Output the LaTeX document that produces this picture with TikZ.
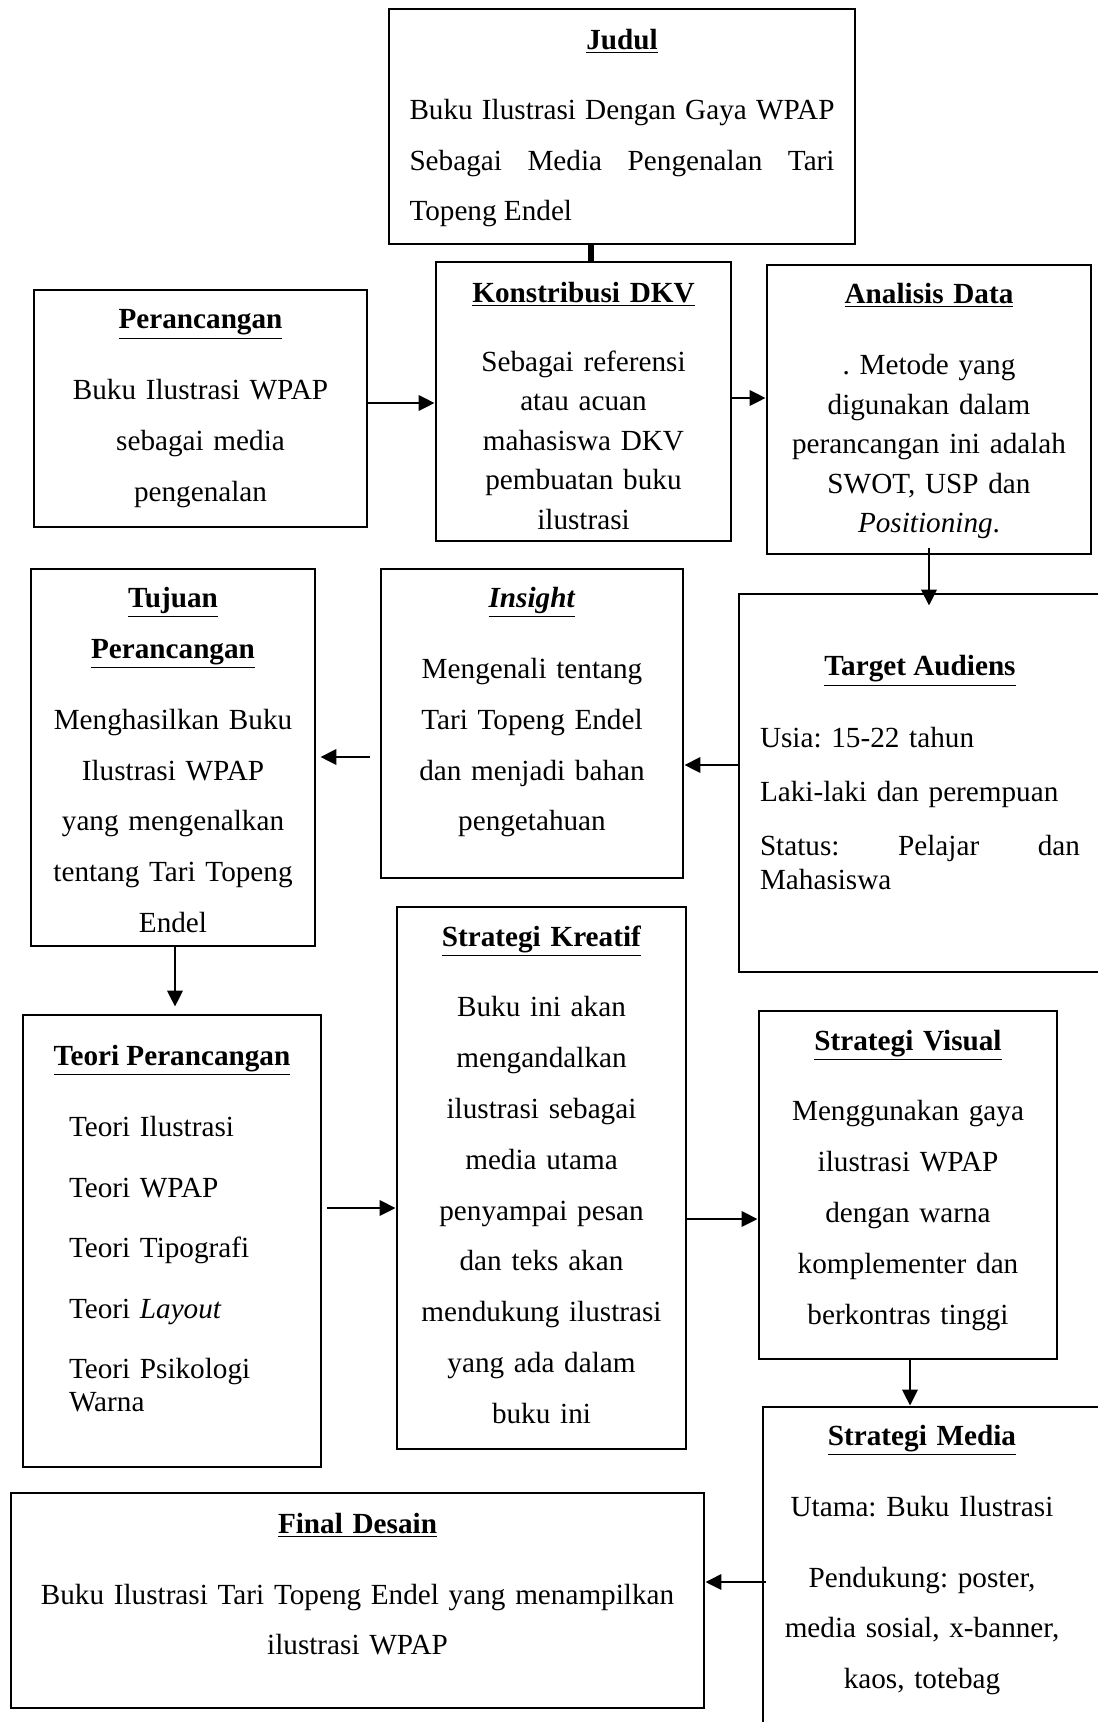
\documentclass[tikz,border=0pt]{standalone}
\usepackage{fontspec}
\setmainfont{Liberation Serif}
\usetikzlibrary{arrows.meta,positioning,calc}
\frenchspacing

\begin{document}
\begin{tikzpicture}[x=0.5pt,y=-0.5pt,
    boxnode/.style={draw,line width=1.4pt,inner sep=0pt},
    txtnode/.style={inner sep=0pt,align=center,anchor=north,
      font=\fontsize{14.6pt}{25.4pt}\selectfont},
    tightnode/.style={txtnode,font=\fontsize{14.6pt}{19.75pt}\selectfont},
    arrowedge/.style={line width=1.4pt,-{Triangle[length=8pt,width=7.6pt]}},
    joinedge/.style={line width=3pt}
    ]
    \useasboundingbox (0,0) rectangle (1097,1722);

    % the boxes
    \node (jud) [boxnode,minimum width=233pt,minimum height=117.5pt] at (622,126.5) {};
    \node (kon) [boxnode,minimum width=147.5pt,minimum height=139.5pt] at (583.5,401.5) {};
    \node (per) [boxnode,minimum width=166.5pt,minimum height=118.5pt] at (200.5,408.5) {};
    \node (ana) [boxnode,minimum width=162pt,minimum height=144.5pt] at (929,409.5) {};
    \node (tuj) [boxnode,minimum width=142pt,minimum height=188.5pt] at (173,757.5) {};
    \node (ins) [boxnode,minimum width=151pt,minimum height=154.5pt] at (532,723.5) {};
    \node (tgt) [boxnode,minimum width=181pt,minimum height=189pt] at (920,783) {};
    \node (teo) [boxnode,minimum width=149pt,minimum height=226pt] at (172,1241) {};
    \node (kre) [boxnode,minimum width=144.5pt,minimum height=271pt] at (541.5,1178) {};
    \node (vis) [boxnode,minimum width=149pt,minimum height=174pt] at (908,1185) {};
    \node (med) [boxnode,minimum width=171pt,minimum height=166.5pt] at (934,1573.5) {};
    \node (fin) [boxnode,minimum width=346.5pt,minimum height=107.5pt] at (357.5,1600.5) {};

    % the texts
    \node (jud-t) [txtnode] at ([yshift=-10.5pt]jud.north) {\underline{\textbf{Judul}}};
    \node (jud-b) [txtnode,text width=212.5pt,align=justify] at ([yshift=-45.5pt]jud.north)
      {Buku Ilustrasi Dengan Gaya WPAP\linebreak Sebagai Media Pengenalan Tari\linebreak Topeng Endel};
    \node (kon-t) [tightnode,text width=140pt] at ([yshift=-10.5pt]kon.north)
      {\underline{\textbf{Konstribusi DKV}}\\[14.85pt]Sebagai referensi\\atau acuan\\mahasiswa DKV\\pembuatan buku\\ilustrasi};
    \node (per-t) [txtnode,text width=160pt] at ([yshift=-10.3pt]per.north)
      {\underline{\textbf{Perancangan}}\\[10pt]Buku Ilustrasi WPAP\\sebagai media\\pengenalan};
    \node (ana-t) [tightnode,text width=155pt] at ([yshift=-9.7pt]ana.north)
      {\underline{\textbf{Analisis Data}}\\[15.9pt]. Metode yang\\digunakan dalam\\perancangan ini adalah\\SWOT, USP dan\\\textit{Positioning}.};
    \node (tuj-t) [txtnode,text width=140pt] at ([yshift=-9.7pt]tuj.north)
      {\underline{\textbf{Tujuan}}\\\underline{\textbf{Perancangan}}\\[10pt]Menghasilkan Buku\\Ilustrasi WPAP\\yang mengenalkan\\tentang Tari Topeng\\Endel};
    \node (ins-t) [txtnode,text width=148pt] at ([yshift=-9.7pt]ins.north)
      {\underline{\textbf{\textit{Insight}}}\\[10pt]Mengenali tentang\\Tari Topeng Endel\\dan menjadi bahan\\pengetahuan};
    \node (tgt-t) [txtnode] at ([yshift=-31.25pt]tgt.north) {\underline{\textbf{Target Audiens}}};
    \node (tgt-b) [txtnode,anchor=north west,text width=160pt,align=left] at ($(tgt.north west)+(11pt,-66.9pt)$)
      {Usia: 15-22 tahun\\[1.75pt]Laki-laki dan perempuan\\[1.75pt]Status:\hfill Pelajar\hfill dan\\[-8.25pt]Mahasiswa};
    \node (teo-t) [txtnode] at ([yshift=-15.5pt]teo.north) {\underline{\textbf{Teori Perancangan}}};
    \node (teo-b) [txtnode,anchor=north west,text width=115pt,align=left,
      font=\fontsize{14.6pt}{30.2pt}\selectfont] at ($(teo.north west)+(23.5pt,-51.3pt)$)
      {Teori Ilustrasi\\Teori WPAP\\Teori Tipografi\\Teori \textit{Layout}\\Teori Psikologi\\[-13.7pt]Warna};
    \node (kre-t) [txtnode,text width=140pt] at ([yshift=-9.8pt]kre.north)
      {\underline{\textbf{Strategi Kreatif}}\\[10pt]Buku ini akan\\mengandalkan\\ilustrasi sebagai\\media utama\\penyampai pesan\\dan teks akan\\mendukung ilustrasi\\yang ada dalam\\buku ini};
    \node (vis-t) [txtnode,text width=145pt] at ([yshift=-9.95pt]vis.north)
      {\underline{\textbf{Strategi Visual}}\\[10pt]Menggunakan gaya\\ilustrasi WPAP\\dengan warna\\komplementer dan\\berkontras tinggi};
    \node (med-t) [txtnode,text width=165pt] at ($(med.north)+(-6pt,-9.6pt)$)
      {\underline{\textbf{Strategi Media}}\\[10pt]Utama: Buku Ilustrasi\\[10pt]Pendukung: poster,\\media sosial, x-banner,\\kaos, totebag};
    \node (fin-t) [txtnode,text width=340pt] at ([yshift=-10.5pt]fin.north)
      {\underline{\textbf{Final Desain}}\\[10pt]Buku Ilustrasi Tari Topeng Endel yang menampilkan\\ilustrasi WPAP};

    % the edges
    \draw [joinedge] ([xshift=3.75pt]kon.north) -- ([xshift=3.75pt]kon.north |- jud.south);
    \draw [arrowedge] ($(per.east)+(0,2.75pt)$) -- ($(per.east -| kon.west)+(0,2.75pt)$);
    \draw [arrowedge] ($(kon.east)+(0,1.75pt)$) -- ($(kon.east -| ana.west)+(0,1.75pt)$);
    \draw [arrowedge] ($(ana.south)+(0,3.5pt)$) -- ($(ana.south |- tgt.north)+(0,-6.5pt)$);
    \draw [arrowedge] ($(tgt.west)+(0,9pt)$) -- ($(tgt.west -| ins.east)+(0,9pt)$);
    \draw [arrowedge] ($(ins.west)+(-5pt,-16.75pt)$) -- ($(ins.west -| tuj.east)+(2pt,-16.75pt)$);
    \draw [arrowedge] ($(tuj.south)+(1pt,0)$) -- ($(tuj.south |- teo.north)+(1pt,3.5pt)$);
    \draw [arrowedge] ($(teo.east)+(2.5pt,16.5pt)$) -- ($(teo.east -| kre.west)+(0,16.5pt)$);
    \draw [arrowedge] ($(kre.east)+(0,-20.5pt)$) -- ($(kre.east -| vis.west)+(0,-20.5pt)$);
    \draw [arrowedge] ($(vis.south)+(1pt,0)$) -- ($(vis.south |- med.north)+(1pt,0)$);
    \draw [arrowedge] ($(med.west)+(2pt,-4.25pt)$) -- ($(med.west -| fin.east)+(0,-4.25pt)$);
\end{tikzpicture}
\end{document}
